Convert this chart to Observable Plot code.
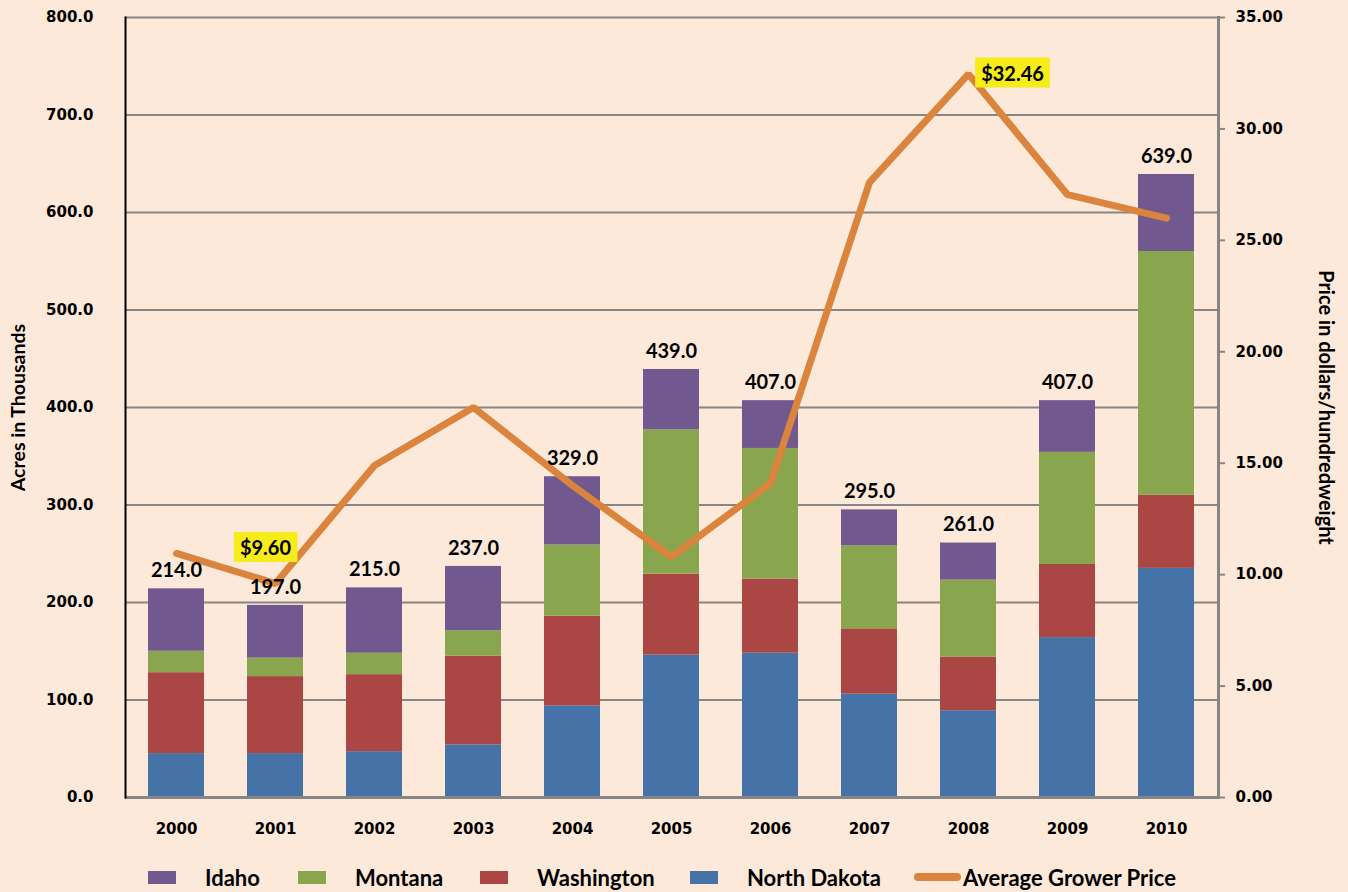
<!DOCTYPE html>
<html><head><meta charset="utf-8">
<script src="https://cdn.jsdelivr.net/npm/d3@7"></script>
<script src="https://cdn.jsdelivr.net/npm/@observablehq/plot@0.6"></script>
<style>
html,body{margin:0;padding:0;background:#FDE9D9;}
#wrap{position:relative;width:1348px;height:892px;overflow:hidden;}
#legend{position:absolute;top:850px;left:0;width:1348px;height:42px;font-family:Lato,sans-serif;font-weight:bold;font-size:22px;color:#000;}
.item{position:absolute;top:13px;display:flex;align-items:center;height:28px;white-space:nowrap;}
.sw{width:28px;height:13px;margin-right:29px;}
.ln{width:47px;height:8px;border-radius:4px;margin-right:2px;}
</style></head>
<body><div id="wrap"><div id="chart"></div><div id="legend"></div></div>
<script>
const years = ["2000","2001","2002","2003","2004","2005","2006","2007","2008","2009","2010"];
const northDakota = [45,45,47,54,94,146,148,106,89,164,235];
const washington = [83,79,79,91,92,83,76,67,55,75,75];
const montana = [22,19,22,26,73,148,134,85,79,115,250];
const idaho = [64,54,67,66,70,62,49,37,38,53,79];
const totals = [214,197,215,237,329,439,407,295,261,407,639];
const avgPrice = [10.95,9.60,14.9,17.5,14.0,10.8,14.1,27.6,32.46,27.05,26.0];
const states = ["Idaho","Montana","Washington","North Dakota"];
const stateColors = ["#71588F","#89A54E","#AA4643","#4572A7"];
const lineColor = "#DB843D";
const leftTicks = [0,100,200,300,400,500,600,700,800];
const rightTicks = [0,5,10,15,20,25,30,35];
const highlightYears = ["2001","2008"];

const k = 800/35; // price -> acres scale factor
const series = {"North Dakota": northDakota, "Washington": washington, "Montana": montana, "Idaho": idaho};
const rows = [];
for (const s of ["North Dakota","Washington","Montana","Idaho"]) years.forEach((y,i)=>rows.push({year:y,state:s,value:series[s][i]}));
const totalRows = years.map((y,i)=>({year:y,total:totals[i]}));
const priceRows = years.map((y,i)=>({year:y,price:avgPrice[i],p:avgPrice[i]*k}));
const lab1 = priceRows.filter(d=>d.year===highlightYears[0]);
const lab2 = priceRows.filter(d=>d.year===highlightYears[1]);

const plot = Plot.plot({
  width:1348, height:850,
  marginLeft:125, marginRight:130, marginTop:17, marginBottom:53,
  style:{fontFamily:"DejaVu Sans", background:"#FDE9D9", color:"#000"},
  x:{domain:years, paddingInner:0.43, paddingOuter:0.215, axis:null},
  y:{domain:[0,800], axis:null},
  color:{domain:states, range:stateColors},
  marks:[
    Plot.gridY(leftTicks,{stroke:"#868686", strokeOpacity:1, strokeWidth:2}),
    Plot.barY(rows,{x:"year", y:"value", fill:"state", order:["North Dakota","Washington","Montana","Idaho"]}),
    Plot.ruleY([0],{stroke:"#868686", strokeWidth:3}),
    Plot.frame({anchor:"left", stroke:"#000", strokeWidth:2}),
    Plot.frame({anchor:"right", stroke:"#868686", strokeWidth:3}),
    Plot.axisY(leftTicks,{anchor:"left", tickSize:0, tickPadding:32, tickFormat:d=>d.toFixed(1), fontSize:15, fontWeight:"bold", label:null}),
    Plot.axisY(rightTicks.map(d=>d*k),{anchor:"right", tickSize:6, stroke:"#868686", strokeWidth:2, tickPadding:11, tickFormat:d=>(d/k).toFixed(2), fontSize:15, fontWeight:"bold", label:null}),
    Plot.axisX({anchor:"bottom", tickSize:0, tickPadding:26, fontSize:15, fontWeight:"bold", label:null}),
    Plot.line(priceRows,{x:"year", y:"p", stroke:lineColor, strokeWidth:7, strokeLinecap:"round", strokeLinejoin:"miter"}),
    Plot.text(totalRows,{x:"year", y:"total", text:d=>d.total.toFixed(1), dy:-18, fontSize:20, fontWeight:"bold", fontFamily:"Lato", fill:"#000"}),
    Plot.text(lab1,{x:"year", y:"p", text:d=>"$"+d.price.toFixed(2), dx:-10, dy:-35, fontSize:20, fontWeight:"bold", fontFamily:"Lato", fill:"#000"}),
    Plot.text(lab2,{x:"year", y:"p", text:d=>"$"+d.price.toFixed(2), dx:44, dy:0, fontSize:20, fontWeight:"bold", fontFamily:"Lato", fill:"#000"}),
    Plot.text(["Acres in Thousands"],{frameAnchor:"left", textAnchor:"middle", rotate:-90, dx:-107, fontSize:19.5, fontWeight:"bold", fontFamily:"Lato", fill:"#000"}),
    Plot.text(["Price in dollars/hundredweight"],{frameAnchor:"right", textAnchor:"middle", rotate:90, dx:107, fontSize:20, fontWeight:"bold", fontFamily:"Lato", fill:"#000"})
  ]
});
document.getElementById("chart").appendChild(plot);
// yellow highlight boxes behind price labels
plot.querySelectorAll('text').forEach(t=>{
  if (!t.textContent.startsWith("$")) return;
  const b = t.getBBox();
  const r = document.createElementNS("http://www.w3.org/2000/svg","rect");
  r.setAttribute("x", b.x-6); r.setAttribute("y", b.y + b.height/2 - 15);
  r.setAttribute("width", b.width+12); r.setAttribute("height", 30);
  r.setAttribute("fill", "#F5EC1A");
  if (t.getAttribute("transform")) r.setAttribute("transform", t.getAttribute("transform"));
  t.parentNode.insertBefore(r, t);
});
// legend
const legend = document.getElementById("legend");
const lefts = [148,298,480,690];
states.forEach((s,i)=>{
  const it = document.createElement("div"); it.className="item"; it.style.left=lefts[i]+"px";
  it.innerHTML = `<div class="sw" style="background:${stateColors[i]}"></div><span>${s}</span>`;
  legend.appendChild(it);
});
const li = document.createElement("div"); li.className="item"; li.style.left="914px";
li.innerHTML = `<div class="ln" style="background:${lineColor}"></div><span>Average Grower Price</span>`;
legend.appendChild(li);
</script></body></html>
